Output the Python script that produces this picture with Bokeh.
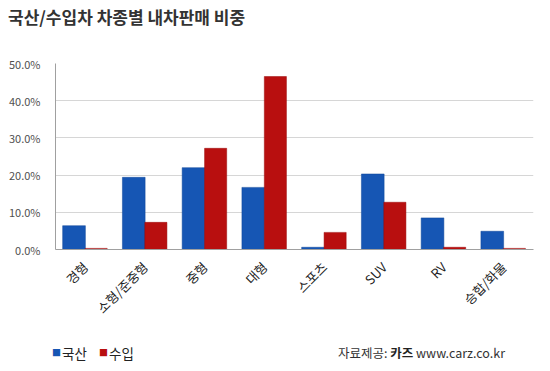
import math
from bokeh.plotting import figure
from bokeh.layouts import column
from bokeh.models import FactorRange, Range1d, FixedTicker, NumeralTickFormatter, ColumnDataSource, Div
from bokeh.transform import dodge
from bokeh.embed import file_html
from bokeh.resources import INLINE

categories = ["경형", "소형/준중형", "중형", "대형", "스포츠", "SUV", "RV", "승합/화물"]
domestic = [0.064, 0.194, 0.220, 0.167, 0.006, 0.203, 0.085, 0.049]
imported = [0.003, 0.073, 0.272, 0.465, 0.046, 0.127, 0.006, 0.003]
y_ticks = [0.0, 0.1, 0.2, 0.3, 0.4, 0.5]
series_names = ["국산", "수입"]
title_text = "국산/수입차 차종별 내차판매 비중"
source_label = "자료제공:"
source_name = "카즈"
source_url = "www.carz.co.kr"

FONT = "Noto Sans CJK KR"
BLUE = "#1656b4"
RED = "#b80f0f"

src = ColumnDataSource(dict(cat=categories, dom=domestic, imp=imported))

title_div = Div(
    text=f'<div style="position:relative;width:550px;height:40px;">'
         f'<span style="position:absolute;left:8px;top:5px;font-family:\'{FONT}\';font-size:17px;'
         f'font-weight:bold;color:#333;white-space:nowrap;line-height:24px;">{title_text}</span></div>',
    width=550, height=40, margin=(0, 0, 0, 0))

p = figure(width=550, height=291, x_range=FactorRange(*categories), y_range=Range1d(0, 0.5),
           output_backend="svg", toolbar_location=None, margin=(0, 0, 0, 0),
           min_border_left=55, min_border_right=17, min_border_top=23, min_border_bottom=82)
p.outline_line_color = None
p.background_fill_color = "white"

p.vbar(x=dodge("cat", -0.19, range=p.x_range), top="dom", width=0.38, source=src,
       fill_color=BLUE, line_color="#0f4799", line_width=0.5)
p.vbar(x=dodge("cat", 0.18, range=p.x_range), top="imp", width=0.37, source=src,
       fill_color=RED, line_color="#9a0a0a", line_width=0.5)

p.yaxis.ticker = FixedTicker(ticks=y_ticks)
p.yaxis.formatter = NumeralTickFormatter(format="0.0%")
p.yaxis.major_label_text_font = FONT
p.yaxis.major_label_text_font_size = "11px"
p.yaxis.major_label_text_color = "#505050"
p.yaxis.axis_line_color = "#a0a0a0"
p.yaxis.major_tick_line_color = None
p.yaxis.minor_tick_line_color = None
p.yaxis.major_label_standoff = 9

p.xaxis.major_label_orientation = math.pi / 4
p.xaxis.major_label_text_font = FONT
p.xaxis.major_label_text_font_size = "13px"
p.xaxis.major_label_text_color = "#222222"
p.xaxis.axis_line_color = "#a0a0a0"
p.xaxis.major_tick_line_color = None
p.xaxis.minor_tick_line_color = None
p.xaxis.major_label_standoff = 9

p.xgrid.grid_line_color = None
p.ygrid.grid_line_color = "#d6d6d6"

span = "position:absolute;top:10px;line-height:24px;white-space:nowrap;font-family:'%s';" % FONT
footer_div = Div(
    text=f'<div style="position:relative;width:550px;height:40px;">'
         f'<span style="{span}left:52px;font-size:9px;color:{BLUE};">■</span>'
         f'<span style="{span}left:62px;font-size:13.5px;color:#222;">{series_names[0]}</span>'
         f'<span style="{span}left:99px;font-size:9px;color:{RED};">■</span>'
         f'<span style="{span}left:109px;font-size:13.5px;color:#222;">{series_names[1]}</span>'
         f'<span style="{span}left:338px;font-size:12.5px;color:#333;">{source_label} '
         f'<b style="color:#222;">{source_name}</b> {source_url}</span>'
         f'</div>',
    width=550, height=40, margin=(0, 0, 0, 0))

layout = column(title_div, p, footer_div, spacing=0, margin=(0, 0, 0, 0))

open("out.html", "w").write(file_html(layout, INLINE))
